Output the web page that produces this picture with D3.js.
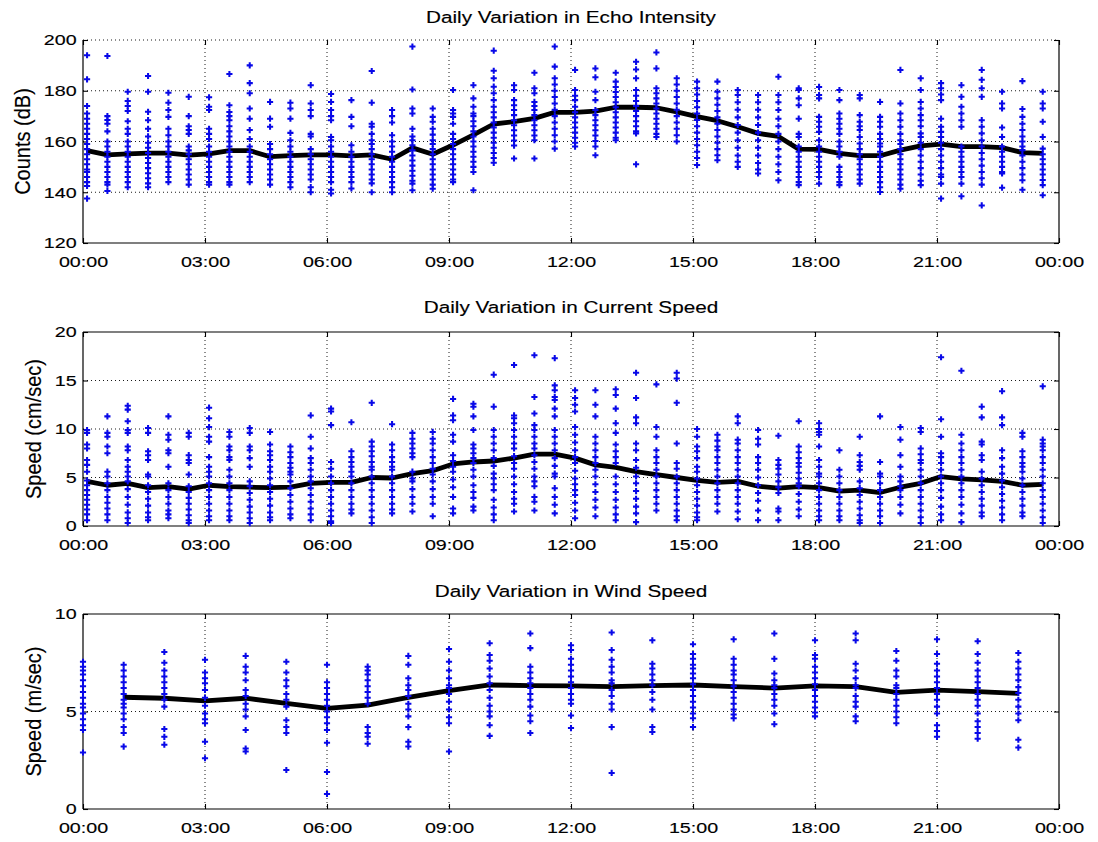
<!DOCTYPE html>
<html>
<head>
<meta charset="utf-8">
<script src="https://cdn.jsdelivr.net/npm/d3@7"></script>
<style>
  body { margin: 0; background: #fff; }
  text { font-family: "Liberation Sans", Arial, Helvetica, sans-serif; fill: #000; stroke: #000; stroke-width: 0.15px; }
</style>
</head>
<body>
<div id="viz-wrapper"></div>
<script>
// size of the svg
var width = 1098, height = 842;

// time of each half-hour bin (hours), used by echo + current panels
var halfHourBins = [0.1, 0.6, 1.1, 1.6, 2.1, 2.6, 3.1, 3.6, 4.1, 4.6, 5.1, 5.6, 6.1, 6.6, 7.1, 7.6,
  8.1, 8.6, 9.1, 9.6, 10.1, 10.6, 11.1, 11.6, 12.1, 12.6, 13.1, 13.6, 14.1, 14.6, 15.1, 15.6,
  16.1, 16.6, 17.1, 17.6, 18.1, 18.6, 19.1, 19.6, 20.1, 20.6, 21.1, 21.6, 22.1, 22.6, 23.1, 23.6];

// hourly bins for wind
var hourBins = [0, 1, 2, 3, 4, 5, 6, 7, 8, 9, 10, 11, 12, 13, 14, 15, 16, 17, 18, 19, 20, 21, 22, 23];
var windMeanHours = [1, 2, 3, 4, 5, 6, 7, 8, 9, 10, 11, 12, 13, 14, 15, 16, 17, 18, 19, 20, 21, 22, 23];

var timeTicks = [0, 3, 6, 9, 12, 15, 18, 21, 24];
var timeLabels = ["00:00", "03:00", "06:00", "09:00", "12:00", "15:00", "18:00", "21:00", "00:00"];

// echo intensity (dB)
var echoMean = [156.4, 154.7, 155.1, 155.4, 155.4, 154.6, 155.1, 156.4, 156.4, 154.0, 154.4, 154.7,
  154.7, 154.3, 154.7, 153.0, 157.5, 155.0, 158.6, 162.6, 166.9, 167.8, 169.1, 171.5,
  171.5, 172.0, 173.5, 173.5, 173.3, 171.7, 169.8, 168.2, 165.8, 163.2, 162.0, 157.0,
  156.9, 155.3, 154.4, 154.4, 156.6, 158.3, 159.0, 158.0, 158.0, 157.6, 155.6, 155.3];

var echoSamples = [
  [194, 184.5, 174, 171, 169, 167, 165, 163, 161, 159, 157, 155, 153, 151, 149, 148, 146, 144, 142.5, 137.5],
  [193.7, 170, 168.5, 167, 164, 160, 158, 156, 154, 152, 150, 148, 146, 144, 143, 140.5],
  [179.6, 176, 174, 172, 168, 165, 163, 160, 158, 156, 154, 152, 150, 148, 146, 144, 142],
  [185.8, 179.6, 171.7, 168.4, 165, 162, 159.5, 157.5, 155.5, 153.5, 151.5, 149.5, 147.5, 145.5, 143.5, 142],
  [179.2, 175.3, 172.4, 169.7, 165, 162.5, 160, 158, 156, 154, 152, 150, 148, 146, 144],
  [177.6, 170, 166, 164.5, 163, 158, 156.5, 155, 153, 151, 149, 147, 145, 143],
  [177.4, 173.7, 172.4, 165, 163, 161, 158, 156, 154, 152, 150, 148, 146, 144, 143],
  [186.6, 174.3, 171.6, 170, 168.4, 166, 164, 162, 160, 158, 156, 154, 152, 150, 148, 146, 144, 143],
  [190, 183, 179, 173, 169, 164.5, 161, 158, 156, 154, 152, 150, 148, 146, 144],
  [175.6, 169, 165.8, 159, 157, 155, 153, 151, 149, 147, 145, 143],
  [175.3, 173, 169, 163.4, 160.5, 158, 156, 154, 152, 150, 148, 146, 144, 142],
  [182.2, 175, 172.4, 170, 163, 162, 157, 155, 153, 151, 149, 147, 145, 142, 140],
  [178.7, 175.6, 172.4, 170, 168.4, 161.8, 160.5, 158, 156, 154, 152, 150, 148, 146, 144, 141, 139.5],
  [176.3, 169.7, 166, 158.5, 156, 154, 152, 150, 148, 146, 144, 141.5],
  [187.8, 175.3, 167, 165.8, 163, 160.5, 159, 157, 155, 153, 151, 149, 147, 145, 143.5, 140],
  [172.4, 170, 167.5, 162.5, 160, 158, 156, 154, 152, 150, 148, 146, 144, 142, 140],
  [197.4, 180.5, 173, 171, 165, 162, 160.5, 158.5, 156.5, 154.5, 152.5, 150.5, 148.5, 146.5, 144.5, 143.4, 140.8],
  [173, 169.7, 167.8, 165, 162.7, 160.5, 159, 157, 155, 153, 151, 149, 147, 145, 143, 141.4],
  [180.3, 172.4, 171, 169.7, 167, 163, 161, 159, 157, 155, 153, 151, 149, 147, 145, 144],
  [182.2, 177, 173.7, 171, 170, 168, 166, 164, 162, 160, 158, 156, 154, 152, 150, 148, 140.8],
  [195.8, 187.9, 184.9, 181.6, 179, 176.3, 173.7, 171.5, 169.5, 167.5, 165.5, 163.5, 161.5, 159.5, 157.5, 155.5, 153.5, 151.6],
  [182.2, 180.3, 176.3, 174.3, 172.4, 170.4, 168.4, 166.4, 164.4, 162.4, 160.4, 158.4, 153.3],
  [187.1, 181, 179, 175.6, 174, 172.4, 170.4, 168.4, 166.4, 164.4, 162.4, 160.5, 153.3],
  [197.4, 189.5, 184.9, 182.5, 180, 177.5, 175, 172.5, 170, 167.5, 165, 162.5, 160, 157.2],
  [188.2, 180.3, 178, 176.3, 173.7, 171.5, 169.5, 167.5, 165.5, 163.5, 161.5, 159.5, 158],
  [188.8, 185.3, 179.6, 176.3, 172.4, 170.4, 168.4, 166.4, 164.4, 162.4, 160.2, 158, 154.6],
  [187.1, 183.6, 181.5, 179.5, 177.5, 175.5, 173.5, 171.5, 169.5, 167.5, 165.5, 163.5, 161.5, 160.5],
  [191.4, 188.4, 184.9, 180.3, 178, 176, 174, 172, 170, 168, 166, 164, 163.2, 151],
  [195.1, 188.8, 181, 179, 177, 175, 173, 171, 169, 167, 165, 163, 161.8],
  [184.9, 182.5, 180, 177.5, 175, 172.5, 170, 167.5, 165, 162.5, 160],
  [183.6, 181, 178.5, 176, 173.5, 171, 168.5, 166, 163.5, 161, 158.5, 156, 153.5, 150.7],
  [183.6, 179.6, 177, 174.5, 172, 169.5, 167, 164.5, 162, 159.5, 157, 154.6, 152.6],
  [180.3, 178.3, 175.5, 172.5, 169.5, 166.5, 163.5, 160.5, 157.5, 154.5, 152, 150],
  [178.3, 175.5, 172.5, 169.5, 166.5, 163.5, 160.5, 157.5, 154.5, 151.5, 149, 147.4],
  [185.5, 178.3, 175.5, 172.4, 169, 166, 163, 160, 157, 154, 151, 148, 144.7],
  [181, 180.3, 177, 174.3, 169, 163, 161.8, 158, 156, 154, 152, 150, 148, 146, 144, 142.8],
  [181.5, 178.3, 177, 169.7, 167.8, 165.8, 163.8, 160.5, 158, 156, 154, 152, 150, 148, 146, 143.4],
  [180.3, 176.3, 171, 169, 167, 165, 163, 160, 158, 156, 154, 150, 148, 146, 144, 142.8],
  [178.3, 177, 170.4, 167.8, 166, 164.5, 161.8, 159.2, 157, 155, 153, 151, 149, 147, 145, 143.4],
  [175.6, 169.7, 167.8, 165.8, 163, 161, 159.2, 158, 156, 154, 152, 150, 148, 146, 144, 142, 140.1],
  [188.2, 175, 171, 168.4, 165.8, 163, 160.5, 159, 157, 155, 153, 151, 149, 147, 145, 143, 141.4],
  [184.9, 180.3, 175.6, 173, 170.4, 168.4, 166, 163.2, 161.8, 159.5, 157, 154.5, 152, 149.5, 147, 144.5, 142.8],
  [183, 181, 178.5, 176.3, 169, 165.8, 163.8, 161.8, 159.5, 157, 154.5, 152, 149.5, 147, 146, 143.4, 137.5],
  [182.2, 177.6, 173.7, 171, 168.4, 165.8, 158, 156, 154, 152, 150, 148, 146, 143.4, 138.4],
  [188.2, 184.3, 181, 177.6, 168.4, 165.8, 163.2, 160.5, 158, 155.5, 153, 150.5, 148, 145.5, 143, 134.8],
  [179.6, 175, 173, 165.5, 161.8, 158, 156, 154, 152, 150, 148, 147.4, 141.8],
  [183.8, 172.8, 169.7, 167, 164.5, 162, 160, 158, 156.6, 154.5, 152, 149.5, 147, 144.7, 141],
  [179.6, 175, 173, 167.8, 161.8, 157.2, 155, 153, 151, 149, 147, 144.8, 142.8, 138.8]
];

// current speed (cm/sec)
var currentMean = [4.6, 4.2, 4.4, 3.95, 4.05, 3.8, 4.2, 4.05, 4.0, 3.95, 4.0, 4.4,
  4.5, 4.5, 5.0, 4.95, 5.4, 5.7, 6.4, 6.6, 6.7, 7.0, 7.4, 7.4,
  7.0, 6.3, 6.05, 5.6, 5.3, 5.0, 4.7, 4.5, 4.6, 4.1, 3.9, 4.05,
  3.95, 3.6, 3.7, 3.45, 4.0, 4.4, 5.1, 4.85, 4.75, 4.6, 4.2, 4.3];

var currentSamples = [
  [9.9, 9.6, 8.4, 8.0, 6.8, 6.3, 5.6, 4.7, 4.2, 3.7, 3.2, 2.7, 2.2, 1.7, 1.2, 0.6],
  [11.3, 9.6, 9.2, 8.2, 7.5, 5.6, 5.1, 4.4, 3.7, 3.0, 2.4, 1.8, 1.2, 0.6],
  [12.4, 12.0, 10.8, 9.9, 9.6, 8.2, 7.8, 6.8, 6.1, 5.6, 5.1, 4.6, 3.8, 3.0, 2.2, 1.4, 0.8, 0.3],
  [10.1, 9.6, 7.7, 7.3, 6.8, 5.3, 5.1, 4.2, 3.5, 2.8, 2.1, 1.4, 0.9, 0.6],
  [11.3, 9.4, 8.9, 7.8, 7.5, 6.1, 4.4, 3.7, 3.0, 2.3, 1.6, 1.2, 0.8],
  [9.6, 9.2, 7.3, 6.8, 6.5, 5.3, 4.1, 3.5, 2.9, 2.3, 1.7, 1.1, 0.6, 0.3],
  [12.2, 11.1, 10.2, 9.2, 8.7, 7.1, 6.1, 5.6, 5.1, 4.4, 3.7, 3.0, 2.3, 1.6, 1.0, 0.6],
  [9.7, 9.2, 8.2, 7.8, 7.1, 6.8, 5.8, 5.1, 4.4, 3.7, 3.0, 2.3, 1.6, 1.0, 0.6],
  [10.1, 9.6, 8.2, 7.8, 7.0, 6.1, 4.6, 4.1, 3.4, 2.7, 2.0, 1.4, 0.8, 0.3],
  [9.7, 8.4, 7.7, 7.3, 6.8, 6.1, 5.6, 4.9, 4.2, 3.5, 2.8, 2.1, 1.4, 0.9, 0.6],
  [8.2, 7.6, 7.1, 6.5, 6.0, 5.6, 5.3, 4.6, 3.9, 3.2, 2.5, 1.8, 1.2, 0.8],
  [11.4, 9.2, 8.0, 7.0, 6.5, 5.8, 5.1, 4.6, 3.9, 3.2, 2.5, 1.8, 1.2, 0.6],
  [12.1, 11.8, 10.4, 6.6, 5.9, 5.1, 4.4, 3.7, 3.0, 2.3, 1.6, 1.0, 0.5, 0.3],
  [10.7, 7.7, 7.1, 6.6, 6.1, 5.6, 5.1, 4.4, 3.7, 3.0, 2.3, 1.7, 1.3],
  [12.7, 8.7, 8.2, 7.7, 7.2, 6.6, 6.1, 5.8, 5.1, 4.4, 3.7, 3.0, 2.3, 1.6, 0.9, 0.3],
  [10.5, 8.4, 7.8, 7.1, 6.6, 6.1, 5.8, 5.1, 4.4, 3.7, 3.0, 2.3, 1.7, 1.3],
  [9.6, 9.0, 8.5, 8.0, 7.5, 7.1, 5.6, 4.9, 4.6, 3.8, 3.0, 2.3, 1.5],
  [9.7, 9.0, 8.5, 7.8, 7.1, 6.5, 5.9, 5.3, 4.6, 3.8, 3.0, 2.3, 1.0],
  [13.1, 11.4, 10.9, 9.4, 8.7, 7.3, 6.7, 6.1, 5.6, 4.8, 4.0, 3.0, 1.8, 1.3],
  [12.6, 12.3, 11.3, 9.9, 8.4, 8.0, 7.5, 7.0, 6.5, 5.8, 5.1, 4.2, 3.5, 2.9, 2.0, 1.6],
  [15.6, 12.3, 9.9, 9.2, 8.5, 7.8, 7.0, 6.2, 5.4, 4.9, 4.3, 3.7, 2.7, 1.9, 1.2, 0.6],
  [16.6, 11.4, 11.1, 10.6, 9.9, 9.2, 8.5, 8.0, 7.2, 6.5, 5.9, 5.1, 4.3, 3.5, 2.8, 2.3, 1.5],
  [17.6, 13.3, 11.6, 10.4, 9.9, 9.2, 8.5, 8.0, 7.3, 6.6, 5.9, 5.1, 4.6, 4.1, 3.0, 2.5, 1.6],
  [17.3, 14.5, 14.0, 13.3, 13.0, 12.1, 11.3, 9.9, 9.2, 8.5, 7.8, 7.0, 6.2, 5.4, 5.1, 3.9, 3.0, 2.2, 1.3],
  [14.0, 13.2, 12.5, 11.8, 10.2, 9.4, 8.6, 7.8, 7.1, 6.5, 5.7, 4.9, 4.3, 3.7, 3.2, 2.4, 1.6, 0.8],
  [14.0, 12.5, 11.3, 9.2, 8.5, 7.8, 7.1, 6.5, 5.8, 5.1, 4.3, 3.5, 2.7, 1.9, 1.0],
  [14.1, 13.5, 12.1, 10.6, 9.6, 8.4, 7.7, 7.1, 6.5, 5.1, 4.3, 3.5, 2.7, 1.9, 1.2, 0.6],
  [15.8, 13.2, 11.2, 10.6, 8.5, 7.8, 6.8, 6.0, 5.1, 4.4, 3.6, 2.8, 2.0, 1.3, 0.4],
  [14.6, 10.2, 9.2, 7.8, 7.1, 6.5, 5.8, 5.1, 4.4, 3.7, 3.0, 2.3, 1.6],
  [15.8, 15.2, 12.7, 8.5, 6.5, 5.9, 5.1, 4.4, 3.7, 3.0, 2.3, 1.6, 1.0, 0.6],
  [10.0, 9.2, 8.2, 7.7, 7.0, 6.1, 5.6, 4.9, 4.2, 3.5, 2.8, 2.1, 1.4, 0.9, 0.6],
  [9.4, 8.8, 8.2, 7.8, 7.1, 6.5, 5.8, 5.1, 4.4, 3.7, 3.0, 2.3, 1.5],
  [11.3, 10.6, 8.9, 8.5, 7.8, 7.1, 6.5, 5.8, 5.1, 4.4, 3.7, 3.0, 2.3, 1.5, 0.7],
  [9.9, 9.0, 8.4, 7.1, 6.5, 5.8, 5.0, 4.2, 3.4, 2.6, 1.6, 0.6],
  [9.3, 6.8, 6.3, 5.9, 5.3, 4.6, 4.0, 3.4, 1.8, 1.5, 0.6],
  [10.8, 8.2, 7.6, 7.0, 6.5, 6.1, 5.5, 4.9, 4.4, 4.1, 3.3, 2.5, 1.7, 1.0],
  [10.6, 10.0, 9.7, 9.4, 8.2, 6.8, 6.1, 5.4, 5.1, 4.4, 3.7, 3.0, 2.3, 1.6, 1.0, 0.6],
  [7.8, 5.8, 5.1, 4.4, 3.7, 3.0, 2.3, 1.6, 1.0, 0.6],
  [9.2, 7.3, 6.6, 6.2, 5.8, 4.6, 3.9, 3.2, 2.5, 1.8, 1.1, 0.6, 0.3],
  [11.3, 6.6, 5.4, 5.1, 4.4, 3.7, 3.0, 2.3, 1.6, 1.0, 0.3],
  [10.2, 8.9, 7.3, 6.1, 5.1, 4.6, 4.1, 3.7, 3.0, 2.2, 1.3],
  [10.1, 9.7, 8.0, 7.4, 6.8, 6.5, 5.8, 5.1, 4.4, 3.7, 3.0, 2.3, 1.6, 0.9, 0.3],
  [17.4, 11.0, 9.2, 7.5, 7.1, 6.5, 5.8, 5.1, 4.4, 3.7, 2.9, 2.0, 1.2, 0.6],
  [16.0, 9.4, 8.5, 7.8, 7.1, 6.5, 5.8, 5.1, 4.4, 3.7, 3.0, 2.2, 1.3, 0.4],
  [12.3, 11.2, 8.7, 8.4, 7.3, 6.8, 5.6, 4.9, 4.2, 3.5, 2.8, 2.1, 1.4, 1.0],
  [13.9, 11.2, 10.4, 7.8, 7.0, 6.1, 5.4, 4.7, 4.0, 3.3, 2.6, 1.9, 1.2, 0.6],
  [9.6, 9.2, 7.7, 7.1, 6.5, 6.1, 5.6, 4.9, 4.2, 3.5, 2.8, 2.1, 1.4, 1.0],
  [14.4, 8.9, 8.5, 8.2, 7.8, 7.1, 6.5, 5.8, 5.1, 4.4, 3.7, 3.0, 2.3, 1.6, 0.9, 0.3]
];

// wind speed (m/sec)
var windMean = [5.73, 5.68, 5.54, 5.68, 5.42, 5.16, 5.33, 5.72, 6.07, 6.36, 6.33, 6.31,
  6.28, 6.33, 6.36, 6.28, 6.2, 6.31, 6.28, 5.98, 6.1, 6.02, 5.93];

var windSamples = [
  [7.55, 7.3, 7.1, 6.9, 6.6, 6.3, 6.0, 5.7, 5.4, 5.2, 4.9, 4.6, 4.3, 4.05, 2.9],
  [7.4, 7.1, 6.8, 6.5, 6.2, 5.9, 5.6, 5.4, 5.2, 4.9, 4.6, 4.2, 3.9, 3.2],
  [8.05, 7.5, 7.1, 6.8, 6.5, 6.2, 5.9, 5.6, 5.25, 4.1, 3.7, 3.3],
  [7.65, 7.0, 6.7, 6.45, 6.1, 5.7, 5.3, 4.9, 4.6, 4.4, 3.45, 2.6],
  [7.85, 7.3, 7.0, 6.6, 6.1, 5.8, 5.4, 5.1, 4.75, 4.05, 3.1, 2.95],
  [7.55, 7.0, 6.6, 6.3, 5.9, 5.6, 5.25, 4.55, 4.2, 3.9, 2.0],
  [7.4, 6.5, 6.2, 5.9, 5.6, 5.3, 5.0, 4.7, 4.4, 4.05, 3.4, 1.9, 0.77],
  [7.3, 7.1, 6.9, 6.6, 6.3, 6.0, 5.7, 5.4, 4.2, 3.9, 3.7, 3.35],
  [7.85, 7.4, 6.7, 6.35, 6.1, 5.8, 5.4, 5.1, 4.75, 4.2, 3.45, 3.2],
  [8.2, 7.55, 7.1, 6.7, 6.35, 6.2, 5.9, 5.5, 5.1, 4.7, 4.4, 2.95],
  [8.5, 7.9, 7.6, 7.2, 6.8, 6.45, 6.1, 5.7, 5.3, 5.0, 4.75, 4.3, 3.75],
  [9.0, 8.25, 7.3, 7.0, 6.7, 6.45, 6.2, 5.9, 5.6, 5.25, 4.8, 4.5, 3.9],
  [8.4, 8.15, 7.7, 7.4, 7.1, 6.8, 6.5, 6.2, 5.9, 5.6, 5.4, 4.8, 4.15],
  [9.05, 8.15, 7.65, 7.3, 7.0, 6.6, 6.45, 6.1, 5.8, 5.4, 5.1, 4.2, 1.85],
  [8.65, 7.45, 7.2, 6.9, 6.6, 6.35, 6.0, 5.6, 5.1, 4.2, 3.95],
  [8.45, 7.95, 7.7, 7.4, 7.2, 6.95, 6.7, 6.4, 6.1, 5.8, 5.5, 5.2, 4.9, 4.65, 4.2],
  [8.7, 7.7, 7.4, 7.1, 6.9, 6.6, 6.3, 6.0, 5.7, 5.4, 5.1, 4.85, 4.65],
  [9.0, 7.7, 6.95, 6.6, 6.35, 6.2, 5.9, 5.6, 5.3, 4.9, 4.35],
  [8.65, 7.9, 7.7, 7.3, 7.0, 6.7, 6.4, 6.1, 5.8, 5.5, 5.2, 4.95, 4.75],
  [9.0, 8.65, 7.45, 7.1, 6.7, 6.35, 6.2, 5.8, 5.5, 5.25, 4.75, 4.5],
  [8.1, 7.6, 7.1, 6.8, 6.35, 6.2, 5.9, 5.6, 5.3, 5.0, 4.7, 4.4],
  [8.7, 7.95, 7.45, 7.1, 6.8, 6.5, 6.2, 5.9, 5.6, 5.25, 4.9, 4.3, 4.0, 3.7],
  [8.6, 7.95, 7.5, 7.1, 6.8, 6.5, 6.2, 5.9, 5.6, 5.3, 4.9, 4.5, 4.2, 3.9, 3.6],
  [8.0, 7.55, 7.2, 6.9, 6.6, 6.25, 5.95, 5.6, 5.25, 4.9, 4.55, 3.55, 3.15]
];

// plot box edges (px)
var plotLeft = 83, plotRight = 1059;

var panels = [
  { title: "Daily Variation in Echo Intensity", label: "Counts (dB)", top: 40, bottom: 243,
    domain: [120, 200], yTicks: [120, 140, 160, 180, 200], bins: halfHourBins, samples: echoSamples,
    meanT: halfHourBins, mean: echoMean, labelX: 22, titleY: 23, dottedTop: true },
  { title: "Daily Variation in Current Speed", label: "Speed (cm/sec)", top: 332, bottom: 526,
    domain: [0, 20], yTicks: [0, 5, 10, 15, 20], bins: halfHourBins, samples: currentSamples,
    meanT: halfHourBins, mean: currentMean, labelX: 33, titleY: 313, dottedTop: false },
  { title: "Daily Variation in Wind Speed", label: "Speed (m/sec)", top: 614, bottom: 809,
    domain: [0, 10], yTicks: [0, 5, 10], bins: hourBins, samples: windSamples,
    meanT: windMeanHours, mean: windMean, labelX: 33, titleY: 597, dottedTop: false }
];

var svg = d3.select("#viz-wrapper")
  .append("svg")
  .attr("width", width)
  .attr("height", height);

var x = d3.scaleLinear().domain([0, 24]).range([plotLeft, plotRight]);

var tickStretch = "scale(1.27,1)";

panels.forEach(function(p) {
  var y = d3.scaleLinear().domain(p.domain).range([p.bottom, p.top]);
  var g = svg.append("g");

  // dotted grid
  var gridX = timeTicks.slice(1, -1);
  var gridY = p.yTicks.slice(1, p.dottedTop ? p.yTicks.length : -1);
  g.selectAll(".gx").data(gridX).enter().append("line")
    .attr("x1", function(d) { return x(d); }).attr("x2", function(d) { return x(d); })
    .attr("y1", p.top).attr("y2", p.bottom)
    .attr("stroke", "#000").attr("stroke-width", 0.9).attr("stroke-dasharray", "1,3");
  g.selectAll(".gy").data(gridY).enter().append("line")
    .attr("x1", plotLeft).attr("x2", plotRight)
    .attr("y1", function(d) { return y(d); }).attr("y2", function(d) { return y(d); })
    .attr("stroke", "#000").attr("stroke-width", 0.9).attr("stroke-dasharray", "1,3");

  // box
  var box = [[plotLeft, p.top, plotLeft, p.bottom], [plotLeft, p.bottom, plotRight, p.bottom],
             [plotRight, p.bottom, plotRight, p.top]];
  if (!p.dottedTop) box.push([plotLeft, p.top, plotRight, p.top]);
  g.selectAll(".box").data(box).enter().append("line")
    .attr("x1", function(d) { return d[0]; }).attr("y1", function(d) { return d[1]; })
    .attr("x2", function(d) { return d[2]; }).attr("y2", function(d) { return d[3]; })
    .attr("stroke", "#000").attr("stroke-width", 1.2);

  // axes, ticks pointing inward like matlab
  var fmt = function(d, i) { return timeLabels[i]; };
  g.append("g").attr("transform", "translate(0," + p.bottom + ")")
    .call(d3.axisBottom(x).tickValues(timeTicks).tickFormat(fmt).tickSizeInner(-5).tickSizeOuter(0).tickPadding(13));
  g.append("g").attr("transform", "translate(0," + p.top + ")")
    .call(d3.axisTop(x).tickValues(timeTicks).tickFormat("").tickSizeInner(-5).tickSizeOuter(0));
  g.append("g").attr("transform", "translate(" + plotLeft + ",0)")
    .call(d3.axisLeft(y).tickValues(p.yTicks).tickFormat(d3.format("d")).tickSizeInner(-5).tickSizeOuter(0).tickPadding(5));
  g.append("g").attr("transform", "translate(" + plotRight + ",0)")
    .call(d3.axisRight(y).tickValues(p.yTicks).tickFormat("").tickSizeInner(-5).tickSizeOuter(0));

  g.selectAll(".domain").remove();
  g.selectAll(".tick line").attr("stroke", "#000").attr("stroke-width", 1.1);
  g.selectAll(".tick text")
    .attr("font-family", "'Liberation Sans', Arial, sans-serif")
    .attr("font-size", "15.5px")
    .attr("fill", "#000")
    .attr("transform", tickStretch);

  // mean line
  var line = d3.line()
    .x(function(d, i) { return x(p.meanT[i]); })
    .y(function(d) { return y(d); });
  g.append("path")
    .datum(p.mean)
    .attr("d", line)
    .attr("fill", "none")
    .attr("stroke", "#000")
    .attr("stroke-width", 4.8)
    .attr("stroke-linejoin", "round");

  // scatter points
  var pts = [];
  p.samples.forEach(function(col, i) {
    col.forEach(function(v) { pts.push({ t: p.bins[i], v: v }); });
  });
  var sym = d3.symbol().type(d3.symbolCross).size(21);
  g.selectAll(".pt").data(pts).enter().append("path")
    .attr("d", sym)
    .attr("transform", function(d) { return "translate(" + x(d.t) + "," + y(d.v) + ")"; })
    .attr("fill", "#0808e8");

  // title
  svg.append("text")
    .attr("text-anchor", "middle")
    .attr("font-size", "17px")
    .attr("transform", "translate(" + ((plotLeft + plotRight) / 2) + "," + p.titleY + ") scale(1.22,1)")
    .text(p.title);

  // y label
  svg.append("text")
    .attr("text-anchor", "middle")
    .attr("font-size", "20px")
    .attr("dy", "0.36em")
    .attr("transform", "translate(" + p.labelX + "," + ((p.top + p.bottom) / 2) + ") rotate(-90) scale(1,1.13)")
    .text(p.label);
});
</script>
</body>
</html>
